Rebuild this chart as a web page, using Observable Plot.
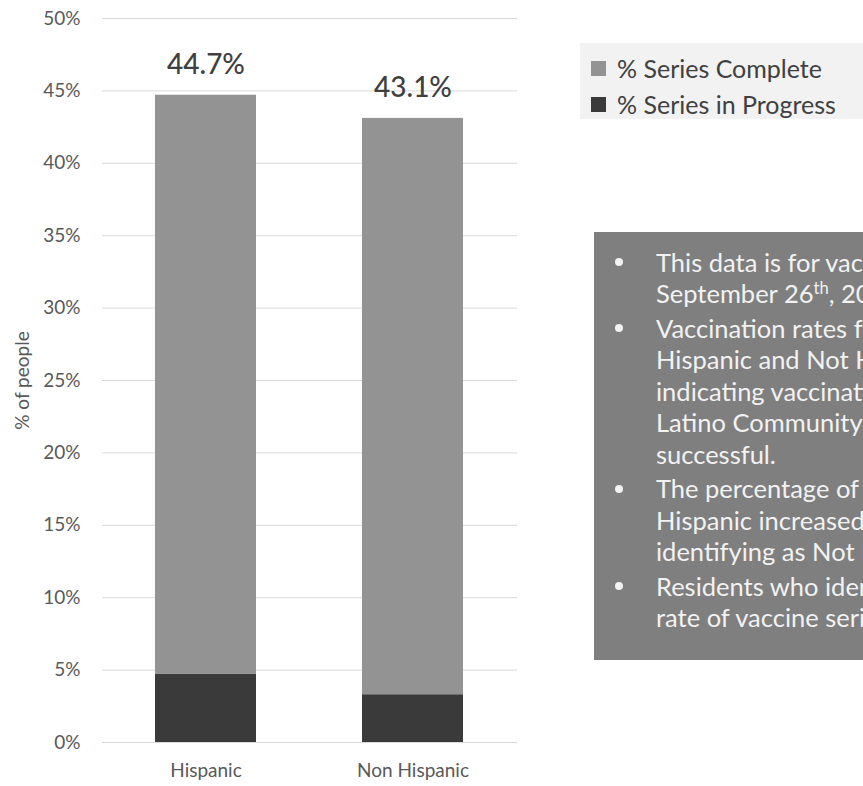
<!DOCTYPE html>
<html>
<head>
<meta charset="utf-8">
<script src="https://cdn.jsdelivr.net/npm/d3@7"></script>
<script src="https://cdn.jsdelivr.net/npm/@observablehq/plot@0.6"></script>
<style>
  html, body { margin: 0; padding: 0; background: #fff; }
  body { width: 863px; height: 786px; position: relative; overflow: hidden; font-family: Lato, sans-serif; }
  #chart { position: absolute; left: 0; top: 0; }
  #legend { position: absolute; left: 580px; top: 43px; width: 283px; height: 76px; background: #f2f2f2; }
  .lrow { position: absolute; left: 11px; height: 30px; display: flex; align-items: center; white-space: nowrap; font-size: 25px; color: #404040; }
  .lsw { width: 15px; height: 15px; margin-right: 11px; }
  #notes { position: absolute; left: 594px; top: 232px; width: 269px; height: 428px; background: #7f7f7f; overflow: hidden; color: #f2f2f2; font-size: 25.5px; }
  .nl { position: absolute; left: 62px; white-space: nowrap; line-height: 1; }
  .bul { position: absolute; left: 21px; width: 8px; height: 8px; border-radius: 50%; background: #f2f2f2; }
  sup { font-size: 0.65em; line-height: 0; }
</style>
</head>
<body>
<div id="chart"></div>
<div id="legend"></div>
<div id="notes"></div>
<script>
// ---- data ----
const groups = ["Hispanic", "Non Hispanic"];
const seriesNames = ["% Series Complete", "% Series in Progress"];
const seriesColors = ["#939393", "#3a3a3a"];
const inProgress = [0.047, 0.033];
const complete = [0.400, 0.398];
const totalLabels = ["44.7%", "43.1%"];
const yTicks = [0, 0.05, 0.10, 0.15, 0.20, 0.25, 0.30, 0.35, 0.40, 0.45, 0.50];
const yLabel = "% of people";
const notes = [
  ["This data is for vaccinations administered through", "September 26<sup>th</sup>, 2021."],
  ["Vaccination rates for residents identifying as", "Hispanic and Not Hispanic are similar,", "indicating vaccination efforts through the", "Latino Community Alliance have been", "successful."],
  ["The percentage of residents identifying as", "Hispanic increased more than residents", "identifying as Not Hispanic."],
  ["Residents who identify as Hispanic have a higher", "rate of vaccine series in progress."]
];

// ---- table ----
const rows = [];
groups.forEach((g, i) => {
  rows.push({group: g, series: seriesNames[1], value: inProgress[i]});
  rows.push({group: g, series: seriesNames[0], value: complete[i]});
});
const totals = groups.map((g, i) => ({group: g, total: inProgress[i] + complete[i], label: totalLabels[i]}));

const chart = Plot.plot({
  width: 560,
  height: 786,
  marginLeft: 102,
  marginRight: 43,
  marginTop: 18,
  marginBottom: 44,
  style: {fontFamily: "Lato, sans-serif", background: "white", overflow: "visible"},
  x: {domain: groups, paddingInner: 0.51, paddingOuter: 0.255, label: null},
  y: {domain: [0, 0.5], label: null},
  color: {domain: seriesNames, range: seriesColors},
  marks: [
    Plot.gridY(yTicks, {stroke: "#d9d9d9", strokeOpacity: 1, strokeWidth: 1}),
    Plot.barY(rows, {x: "group", y: "value", fill: "series", order: [seriesNames[1], seriesNames[0]]}),
    Plot.text(totals, {x: "group", y: "total", text: "label", dy: -30, fontSize: 28, fontWeight: 500, fill: "#404040"}),
    Plot.axisY({ticks: yTicks, tickFormat: d3.format(".0%"), tickSize: 0, tickPadding: 22, fontSize: 19, color: "#595959", label: null}),
    Plot.axisX({tickSize: 0, tickPadding: 21, fontSize: 19, color: "#595959", label: null}),
    Plot.text([yLabel], {frameAnchor: "left", text: d => d, rotate: -90, textAnchor: "middle", dx: -80, fontSize: 19, fill: "#595959"})
  ]
});
document.getElementById("chart").appendChild(chart);

// ---- legend ----
const legend = document.getElementById("legend");
const rowCenters = [25, 61];
seriesNames.forEach((s, i) => {
  const r = document.createElement("div");
  r.className = "lrow";
  r.style.top = (rowCenters[i] - 15) + "px";
  const sw = document.createElement("span");
  sw.className = "lsw";
  sw.style.background = seriesColors[i];
  const t = document.createElement("span");
  t.textContent = s;
  r.appendChild(sw); r.appendChild(t);
  legend.appendChild(r);
});

// ---- notes ----
const box = document.getElementById("notes");
let y = 30;
notes.forEach((para, pi) => {
  const b = document.createElement("div");
  b.className = "bul";
  b.style.top = (y - 4) + "px";
  box.appendChild(b);
  para.forEach((line, li) => {
    const d = document.createElement("div");
    d.className = "nl";
    d.style.top = (y - 12.5) + "px";
    d.innerHTML = line;
    box.appendChild(d);
    y += (li === para.length - 1) ? 34.5 : 31.5;
  });
});
</script>
</body>
</html>
